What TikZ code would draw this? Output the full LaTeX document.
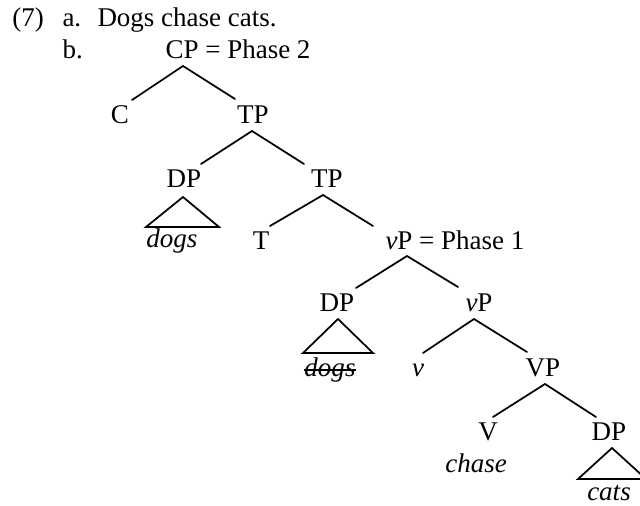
\documentclass[tikz,border=0pt]{standalone}
\usepackage{fontspec}
\setmainfont{Liberation Serif}
\begin{document}
\begin{tikzpicture}[x=0.4pt,y=-0.4pt,
  lbl/.style={inner sep=0pt,anchor=base,font=\fontsize{10.8}{13}\selectfont},
  lblw/.style={lbl,anchor=base west},
  branch/.style={line width=0.7pt,line cap=round},
  tri/.style={line width=0.7pt,line join=miter}]
\useasboundingbox (0,0) rectangle (640,506);
\clip (0,0) rectangle (640,506);
% header
\node[lblw] (num) at (12,27) {(7)};
\node[lblw] (ia) at (62,27) {a.};
\node[lblw] (sent) at (97,27) {Dogs chase cats.};
\node[lblw] (ib) at (62,59) {b.};
% labels
\node[lblw] (cp) at (165,59) {CP = Phase 2};
\node[lbl] (c) at (120,124) {C};
\node[lbl] (tp) at (253,124) {TP};
\node[lbl] (dp1) at (184,188) {DP};
\node[lbl] (tpb) at (327,188) {TP};
\node[lbl] (dogsA) at (172,247) {\textit{dogs}};
\node[lbl] (t) at (261,249) {T};
\node[lblw] (vp) at (385,249) {\textit{v}P = Phase 1};
\node[lbl] (dp2) at (337,312) {DP};
\node[lbl] (vpb) at (479,312) {\textit{v}P};
\node[lbl] (dogsB) at (330,376) {\textit{dogs}};
\node[lbl] (v) at (418,376) {\textit{v}};
\node[lbl] (VP) at (543,376) {VP};
\node[lbl] (V) at (488,440) {V};
\node[lbl] (dp3) at (609,440) {DP};
\node[lbl] (chase) at (476,472) {\textit{chase}};
\node[lbl] (cats) at (609,500) {\textit{cats}};
\draw[line width=0.6pt] ([yshift=2.5pt]dogsB.base west) -- ([yshift=2.5pt]dogsB.base east);
% branch points
\coordinate (cpA) at (183,66); \coordinate (cpL) at (132,100); \coordinate (cpR) at (235,99);
\coordinate (tpA) at (252,131); \coordinate (tpL) at (201,164); \coordinate (tpR) at (304,164);
\coordinate (tbA) at (323,195); \coordinate (tbL) at (270,226); \coordinate (tbR) at (373,226);
\coordinate (vpA) at (407,256); \coordinate (vpL) at (356,288); \coordinate (vpR) at (458,287);
\coordinate (vbA) at (474,319); \coordinate (vbL) at (423,353); \coordinate (vbR) at (527,352);
\coordinate (VPA) at (545,384); \coordinate (VPL) at (493,417); \coordinate (VPR) at (596,417);
\draw[branch] (cpL) -- (cpA) -- (cpR);
\draw[branch] (tpL) -- (tpA) -- (tpR);
\draw[branch] (tbL) -- (tbA) -- (tbR);
\draw[branch] (vpL) -- (vpA) -- (vpR);
\draw[branch] (vbL) -- (vbA) -- (vbR);
\draw[branch] (VPL) -- (VPA) -- (VPR);
% triangles
\coordinate (t1A) at (183,197); \coordinate (t1L) at (146,227); \coordinate (t1R) at (219,227);
\coordinate (t2A) at (338,319); \coordinate (t2L) at (303,353); \coordinate (t2R) at (373,353);
\coordinate (t3A) at (612,448); \coordinate (t3L) at (578,479); \coordinate (t3R) at (646,479);
\draw[tri] (t1A) -- (t1L) -- (t1R) -- cycle;
\draw[tri] (t2A) -- (t2L) -- (t2R) -- cycle;
\draw[tri] (t3A) -- (t3L) -- (t3R) -- cycle;
\end{tikzpicture}
\end{document}
